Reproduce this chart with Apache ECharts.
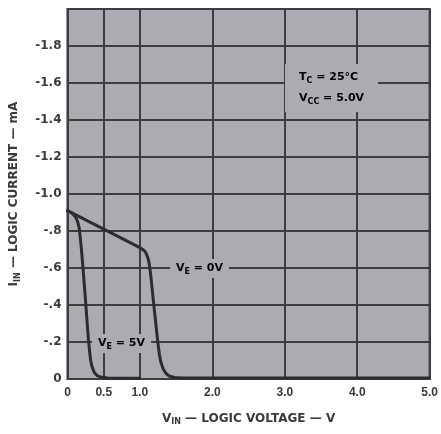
<!DOCTYPE html>
<html lang="en">
  <head>
    <meta charset="UTF-8" />
    <title>Logic current vs logic voltage</title>
    <script src="https://cdn.jsdelivr.net/npm/echarts/dist/echarts.min.js"></script>
    <style>
      html, body { margin: 0; padding: 0; background: #ffffff; }
      #main { width: 441px; height: 434px; }
    </style>
  </head>
  <body>
    <div id="main"></div>
    <script>
      // curves: [V_IN (V), I_IN (mA)]
      var curveVe0 = [
        [0, -0.91], [0.5, -0.81], [1.0, -0.71], [1.04, -0.70], [1.07, -0.69],
        [1.09, -0.675], [1.11, -0.655], [1.125, -0.63], [1.14, -0.59], [1.155, -0.54],
        [1.17, -0.48], [1.2, -0.37], [1.23, -0.26], [1.25, -0.19], [1.27, -0.13],
        [1.29, -0.09], [1.32, -0.055], [1.36, -0.03], [1.41, -0.015], [1.48, -0.008],
        [1.6, -0.006], [5.0, -0.005]
      ];
      var curveVe5 = [
        [0, -0.91], [0.05, -0.9], [0.09, -0.885], [0.12, -0.87], [0.14, -0.85],
        [0.16, -0.82], [0.175, -0.77], [0.19, -0.71], [0.21, -0.62], [0.23, -0.52],
        [0.25, -0.42], [0.27, -0.31], [0.29, -0.21], [0.305, -0.15], [0.32, -0.1],
        [0.34, -0.065], [0.37, -0.035], [0.41, -0.018], [0.47, -0.009], [0.56, -0.005],
        [1.0, -0.004]
      ];
      var xLabels = { 0: "0", 0.5: "0.5", 1: "1.0", 2: "2.0", 3: "3.0", 4: "4.0", 5: "5.0" };
      var yLabels = {
        "-1.8": "-1.8", "-1.6": "-1.6", "-1.4": "-1.4", "-1.2": "-1.2", "-1": "-1.0",
        "-0.8": "-.8", "-0.6": "-.6", "-0.4": "-.4", "-0.2": "-.2", "0": "0"
      };

      var ink = "#3a3a3e";
      var plotBg = "#adabb1";
      var gridDark = "#3d3c44";
      var fontMain = "DejaVu Sans";

      var subStyle = { fontSize: 8, fontWeight: "bold", fontFamily: fontMain, color: ink, padding: [7, 0, 0, 0] };
      var baseStyle = { fontSize: 12, fontWeight: "bold", fontFamily: fontMain, color: ink };
      var noteStyle = Object.assign({}, baseStyle, { fontSize: 11 });

      var chart = echarts.init(document.getElementById("main"));

      var option = {
        backgroundColor: "#ffffff",
        animation: false,
        grid: {
          left: 66, top: 9, width: 365, height: 370,
          show: true, backgroundColor: plotBg,
          borderColor: "#2f2f33", borderWidth: 2
        },
        xAxis: {
          type: "value",
          min: 0, max: 5, interval: 0.5,
          axisLine: { show: false },
          axisTick: { show: false },
          axisLabel: {
            margin: 8,
            color: ink, fontSize: 12, fontWeight: "bold", fontFamily: "Liberation Sans",
            formatter: function (v) {
              var k = Math.round(v * 10) / 10;
              return xLabels[k] !== undefined ? xLabels[k] : "";
            }
          },
          // no grid line at 1.5, 2.5, 3.5, 4.5
          splitLine: {
            show: true,
            lineStyle: {
              width: 2,
              color: [gridDark, gridDark, gridDark, "rgba(0,0,0,0)", gridDark, "rgba(0,0,0,0)",
                      gridDark, "rgba(0,0,0,0)", gridDark, "rgba(0,0,0,0)", gridDark]
            }
          },
          name: "{b|V}{s|IN}{b| — LOGIC VOLTAGE — V}",
          nameLocation: "middle",
          nameGap: 32,
          nameTextStyle: { rich: { b: baseStyle, s: subStyle } }
        },
        yAxis: {
          type: "value",
          min: -2, max: 0, interval: 0.2, inverse: true,
          axisLine: { show: false },
          axisTick: { show: false },
          axisLabel: {
            margin: 6,
            color: ink, fontSize: 12, fontWeight: "bold", fontFamily: fontMain,
            formatter: function (v) {
              var k = String(Math.round(v * 10) / 10);
              return yLabels[k] !== undefined ? yLabels[k] : "";
            }
          },
          splitLine: { show: true, lineStyle: { width: 2, color: gridDark } },
          name: "{b|I}{s|IN}{b| — LOGIC CURRENT — mA}",
          nameLocation: "middle",
          nameGap: 46,
          nameRotate: 90,
          nameTextStyle: { rich: { b: baseStyle, s: subStyle } }
        },
        series: [
          {
            name: "VE = 0V",
            type: "line",
            data: curveVe0,
            showSymbol: false,
            lineStyle: { width: 3, color: "#2c2b30", join: "round", cap: "round" },
            z: 3
          },
          {
            name: "VE = 5V",
            type: "line",
            data: curveVe5,
            showSymbol: false,
            lineStyle: { width: 3, color: "#2c2b30", join: "round", cap: "round" },
            z: 3
          }
        ],
        graphic: [
          {
            type: "text", left: 285, top: 64, z: 2,
            style: {
              text: "{b|T}{s|C}{b| = 25°C}\n{b|V}{s|CC}{b| = 5.0V}",
              backgroundColor: plotBg, padding: [3, 14, 3, 14], lineHeight: 21,
              rich: { b: noteStyle, s: subStyle }
            }
          },
          {
            type: "text", left: 170, top: 259, z: 2,
            style: {
              text: "{b|V}{s|E}{b| = 0V}",
              backgroundColor: plotBg, padding: [2, 6, 2, 6],
              rich: { b: noteStyle, s: subStyle }
            }
          },
          {
            type: "text", left: 92, top: 334, z: 2,
            style: {
              text: "{b|V}{s|E}{b| = 5V}",
              backgroundColor: plotBg, padding: [2, 6, 2, 6],
              rich: { b: noteStyle, s: subStyle }
            }
          }
        ]
      };

      chart.setOption(option);
    </script>
  </body>
</html>
